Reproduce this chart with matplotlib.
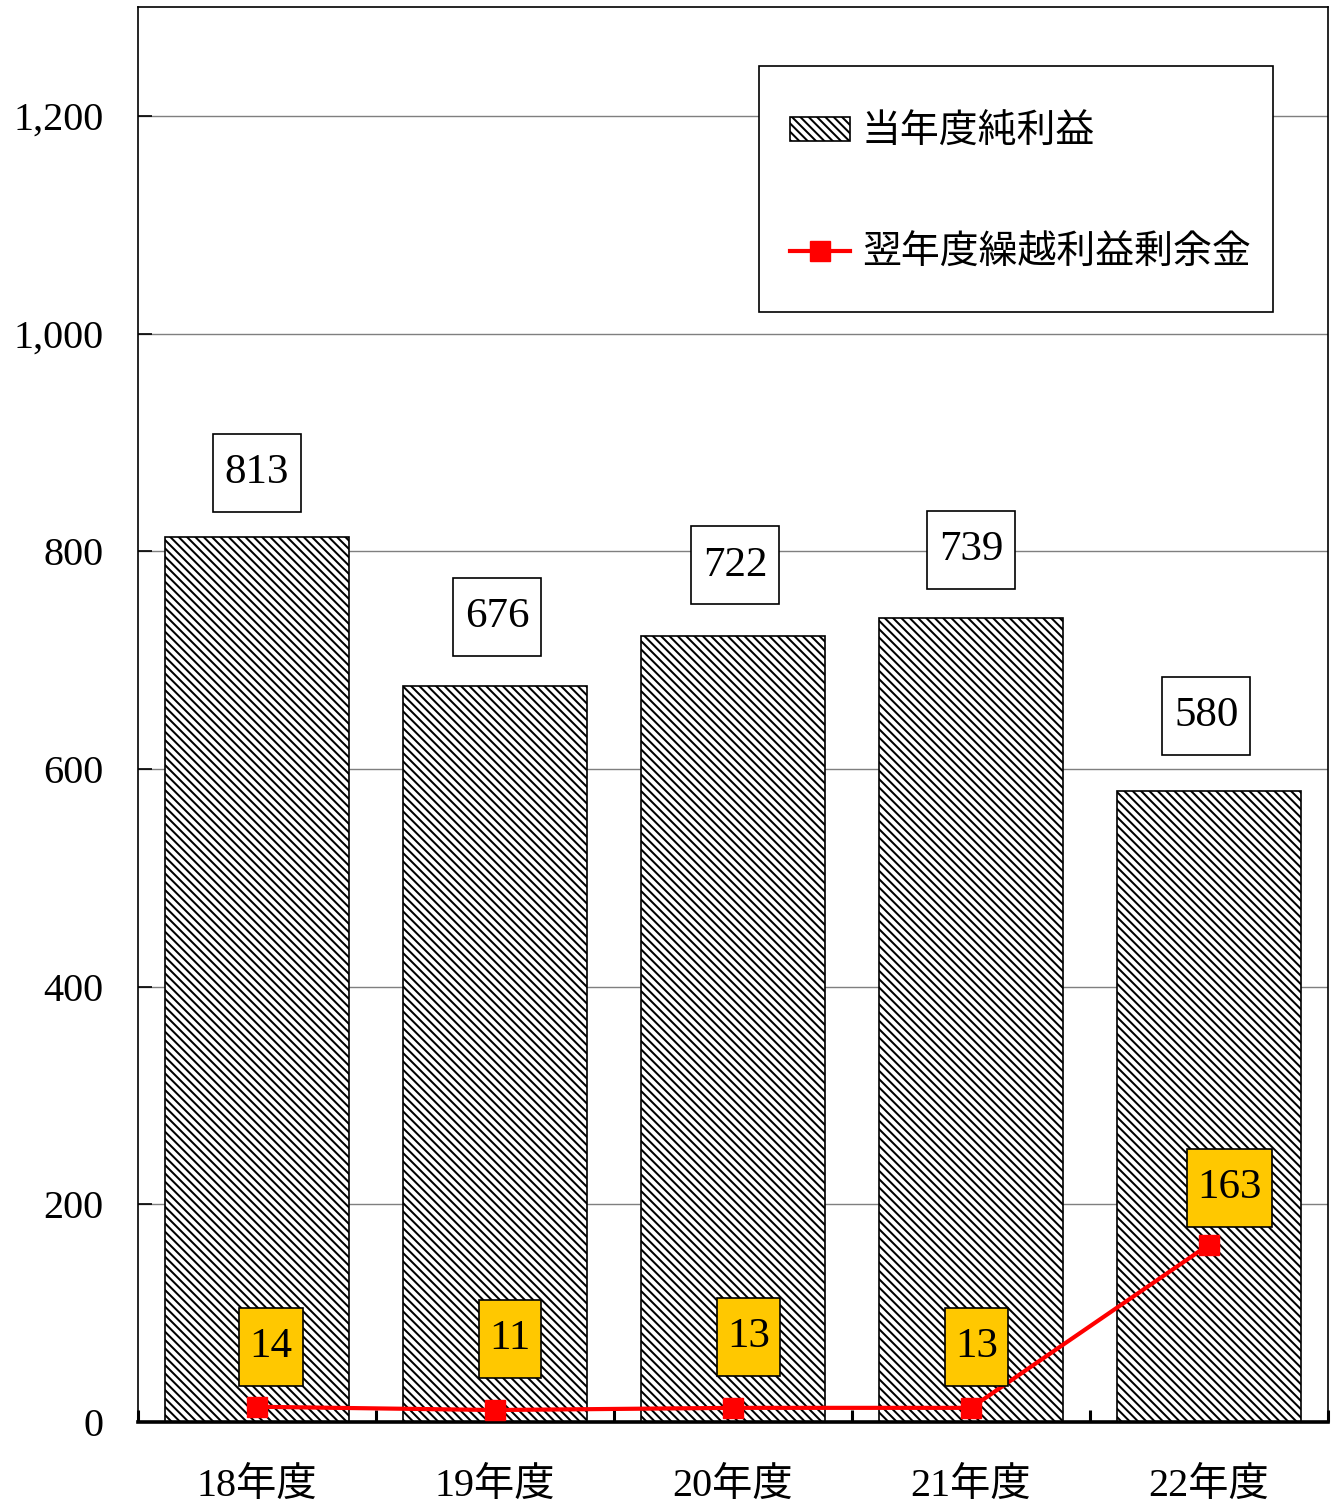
import matplotlib
matplotlib.use('Agg')
import matplotlib.pyplot as plt
from matplotlib.font_manager import FontProperties
from matplotlib.legend_handler import HandlerPatch
from matplotlib.patches import Rectangle
from matplotlib.path import Path
import numpy as np

# ---- data ----
categories = ['18年度', '19年度', '20年度', '21年度', '22年度']
net_income = [813, 676, 722, 739, 580]
retained_earnings = [14, 11, 13, 13, 163]
series_names = ['当年度純利益', '翌年度繰越利益剰余金']
yticks = [0, 200, 400, 600, 800, 1000, 1200]
ytick_labels = ['0', '200', '400', '600', '800', '1,000', '1,200']

# ---- layout (label offsets in points) ----
bar_label_offsets = [(0, 46), (1.5, 50), (1.5, 51), (0, 49), (-2, 54)]
line_label_offsets = [(10, 43), (11, 51), (11, 51), (4, 44), (15, 41)]

plt.rcParams['hatch.linewidth'] = 1.45
num_font = ['Liberation Serif', 'Noto Sans CJK JP']
BS = chr(92)


def box_style(padx, pady):
    def box(x0, y0, width, height, mutation_size):
        px = padx * mutation_size
        py = pady * mutation_size
        xa, ya = x0 - px, y0 - py
        xb, yb = x0 + width + px, y0 + height + py
        return Path([(xa, ya), (xb, ya), (xb, yb), (xa, yb), (xa, ya)],
                    closed=True)
    return box


fig = plt.figure(figsize=(13.34, 15.02), dpi=100)
ax = fig.add_axes([138 / 1334, 80 / 1502, 1190 / 1334, 1415 / 1502])

x = np.arange(len(categories))
bars = ax.bar(x, net_income, width=0.77, color='white', edgecolor='black',
              hatch=BS * 4, linewidth=1.2, zorder=2, label=series_names[0])
line, = ax.plot(x, retained_earnings, color='red', lw=3, marker='s', ms=14,
                zorder=4, label=series_names[1])

ax.set_xlim(-0.5, 4.5)
ax.set_ylim(0, 1300)

ax.set_yticks(yticks)
ax.set_yticklabels(ytick_labels, fontfamily=num_font, fontsize=29)
ax.tick_params(axis='y', direction='in', length=10, width=1.2, pad=25)
ax.yaxis.grid(True, color='#7f7f7f', lw=1)
ax.set_axisbelow(True)

ax.set_xticks(x)
ax.set_xticklabels(categories, fontfamily=num_font, fontsize=29)
ax.tick_params(axis='x', which='major', length=0, pad=33)
ax.set_xticks(np.arange(-0.5, len(categories), 1), minor=True)
ax.tick_params(axis='x', which='minor', direction='in', length=9, width=2.2,
               color='black')

for s in ['left', 'right', 'top']:
    ax.spines[s].set_linewidth(1.2)
ax.spines['bottom'].set_linewidth(2.6)

for xi, v, off in zip(x, net_income, bar_label_offsets):
    ax.annotate(str(v), (xi, v), xytext=off, textcoords='offset points',
                ha='center', va='center', fontfamily=num_font, fontsize=31,
                bbox=dict(boxstyle=box_style(0.28, 0.46), fc='white',
                          ec='black', lw=1.2),
                zorder=5)

for xi, v, off in zip(x, retained_earnings, line_label_offsets):
    ax.annotate(str(v), (xi, v), xytext=off, textcoords='offset points',
                ha='center', va='center', fontfamily=num_font, fontsize=31,
                bbox=dict(boxstyle=box_style(0.24, 0.46), fc='#ffc800',
                          ec='black', lw=1.2),
                zorder=5)


def small_patch(legend, orig_handle, xdescent, ydescent, width, height, fontsize):
    h = 0.62 * fontsize
    return Rectangle((-xdescent, -ydescent + (height - h) / 2), width, h)


# legend frame drawn separately (axes fraction)
ax.add_patch(Rectangle((0.5218, 0.7845), 0.4319, 0.1739, transform=ax.transAxes,
                       fc='white', ec='black', lw=1.2, zorder=5.9))

bar_handle = bars.patches[0]
leg = ax.legend(handles=[bar_handle, line], labels=series_names, loc='upper left',
                bbox_to_anchor=(0.5479, 0.9261),
                prop=FontProperties(family=['Noto Sans CJK JP'], size=28),
                labelspacing=2.1, borderpad=0, handlelength=1.55,
                handletextpad=0.3, frameon=False, borderaxespad=0,
                handler_map={bar_handle: HandlerPatch(patch_func=small_patch)})
leg.set_zorder(6)

fig.savefig('out.png', dpi=100)
